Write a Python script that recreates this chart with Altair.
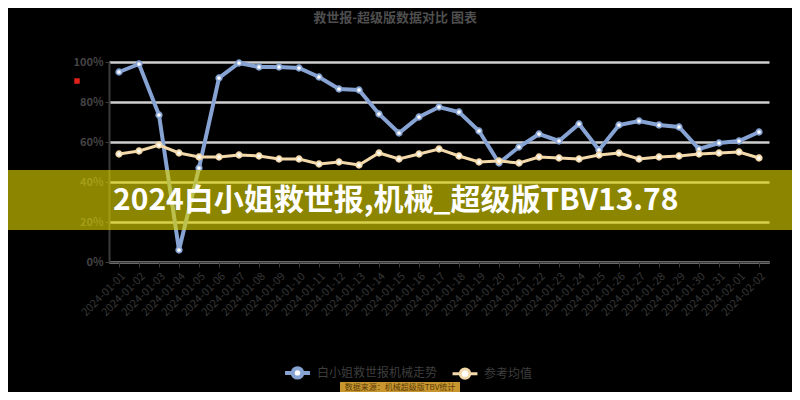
import altair as alt
import pandas as pd

categories = [
    "2024-01-01", "2024-01-02", "2024-01-03", "2024-01-04", "2024-01-05",
    "2024-01-06", "2024-01-07", "2024-01-08", "2024-01-09", "2024-01-10",
    "2024-01-11", "2024-01-12", "2024-01-13", "2024-01-14", "2024-01-15",
    "2024-01-16", "2024-01-17", "2024-01-18", "2024-01-19", "2024-01-20",
    "2024-01-21", "2024-01-22", "2024-01-23", "2024-01-24", "2024-01-25",
    "2024-01-26", "2024-01-27", "2024-01-28", "2024-01-29", "2024-01-30",
    "2024-01-31", "2024-02-01", "2024-02-02",
]
blue_values = [95, 99, 73.5, 6, 47, 92, 99.5, 97.5, 97.5, 97, 92.5, 86.5, 86,
               74, 64.5, 72.5, 77.5, 75, 65.5, 49.5, 57.5, 64, 60.5, 69, 56,
               68.5, 70.5, 68.5, 67.5, 56.5, 59.5, 60.5, 65]
orange_values = [54, 55.5, 58.5, 54.5, 52.5, 52.5, 53.5, 53, 51.5, 51.5, 49, 50,
                 48.5, 54.5, 51.5, 54, 56.5, 53, 50, 50.5, 49.5, 52.5, 52, 51.5,
                 53.5, 54.5, 51.5, 52.5, 53, 54, 54.5, 55, 52]
series_names = ["白小姐救世报机械走势", "参考均值"]
series_colors = ["#86a3d3", "#f3d9aa"]
y_ticks = [0, 20, 40, 60, 80, 100]
title_text = "救世报-超级版数据对比  图表"
banner_text = "2024白小姐救世报,机械_超级版TBV13.78"
footer_text = "数据来源：机械超级版TBV统计"

rows = []
for c, b, o in zip(categories, blue_values, orange_values):
    rows.append({"date": c, "series": series_names[0], "value": b})
    rows.append({"date": c, "series": series_names[1], "value": o})
df = pd.DataFrame(rows)

FONT = "Noto Sans CJK SC"

x = alt.X("date:O", sort=categories, scale=alt.Scale(padding=0.5),
          axis=alt.Axis(title=None, labelAngle=-45, labelColor="#363636",
                        labelFontSize=11, labelFont=FONT, domainColor="#3a3a3a",
                        domainWidth=2, tickColor="#3a3a3a", tickSize=5,
                        grid=False, labelPadding=3))
y = alt.Y("value:Q", scale=alt.Scale(domain=[0, 100], nice=False),
          axis=alt.Axis(title=None, values=y_ticks,
                        labelExpr="datum.value + '%'",
                        gridColor="#cfcfcf", gridWidth=2.5,
                        domainColor="#3a3a3a", domainWidth=2,
                        tickColor="#3a3a3a", tickSize=4, labelPadding=2,
                        labelColor="#454545", labelFontSize=11,
                        labelFont=FONT, labelFontWeight="bold"))

legend_symbol = ("M-1,0L-0.38,0M0.38,0L1,0M0.38,0A0.38,0.38,0,1,1,-0.38,0"
                 "A0.38,0.38,0,1,1,0.38,0Z")
color = alt.Color(
    "series:N",
    scale=alt.Scale(domain=series_names, range=series_colors),
    legend=alt.Legend(title=None, orient="none", legendX=174, legendY=296,
                      direction="horizontal", symbolType=legend_symbol,
                      symbolSize=620, symbolStrokeWidth=2.5,
                      symbolFillColor="#ffffff", labelFontSize=12,
                      labelFont=FONT, labelColor="#3e3e3e", labelOffset=5,
                      columnPadding=8, padding=0),
)
stroke_w = alt.StrokeWidth("series:N",
                           scale=alt.Scale(domain=series_names, range=[4, 3]),
                           legend=None)

base = alt.Chart(df)
lines = base.mark_line().encode(x=x, y=y, color=color, strokeWidth=stroke_w,
                                detail="series:N")
points = base.mark_point(filled=False, fill="#ffffff", fillOpacity=1,
                         strokeWidth=1.8, size=30, opacity=1).encode(
    x=x, y=y, color=color)

one = alt.Data(values=[{"t": title_text, "b": banner_text, "f": footer_text}])

title = alt.Chart(one).mark_text(
    font=FONT, fontSize=13, fontWeight="bold", color="#4e4e4e",
    align="center", baseline="middle").encode(
    x=alt.value(286), y=alt.value(-44), text="t:N")

red_mark = alt.Chart(one).mark_square(color="#e3211b", size=30, opacity=1).encode(
    x=alt.value(-32), y=alt.value(19))

band = alt.Chart(one).mark_rect(color="#dcd200", opacity=0.63).encode(
    x=alt.value(-101), x2=alt.value(683), y=alt.value(108), y2=alt.value(168))

banner = alt.Chart(one).mark_text(
    font=FONT, fontSize=30, fontWeight="bold", color="#ffffff",
    align="left", baseline="middle").encode(
    x=alt.value(4), y=alt.value(139), text="b:N")

footer_box = alt.Chart(one).mark_rect(color="#c8962e").encode(
    x=alt.value(231), x2=alt.value(351), y=alt.value(320), y2=alt.value(332))
footer = alt.Chart(one).mark_text(
    font=FONT, fontSize=8, color="#5a3c08", align="center",
    baseline="middle").encode(x=alt.value(291), y=alt.value(325.5), text="f:N")

chart = alt.layer(lines, points, title, red_mark, band, banner,
                  footer_box, footer).properties(
    width=660, height=200,
    autosize=alt.AutoSizeParams(type="none"),
    padding={"left": 101, "top": 54, "right": 23, "bottom": 130},
    background="#000000",
).configure_view(stroke=None).configure_axis(labelFont=FONT)

chart.save("out.html", embed_options={"renderer": "svg", "actions": False})
